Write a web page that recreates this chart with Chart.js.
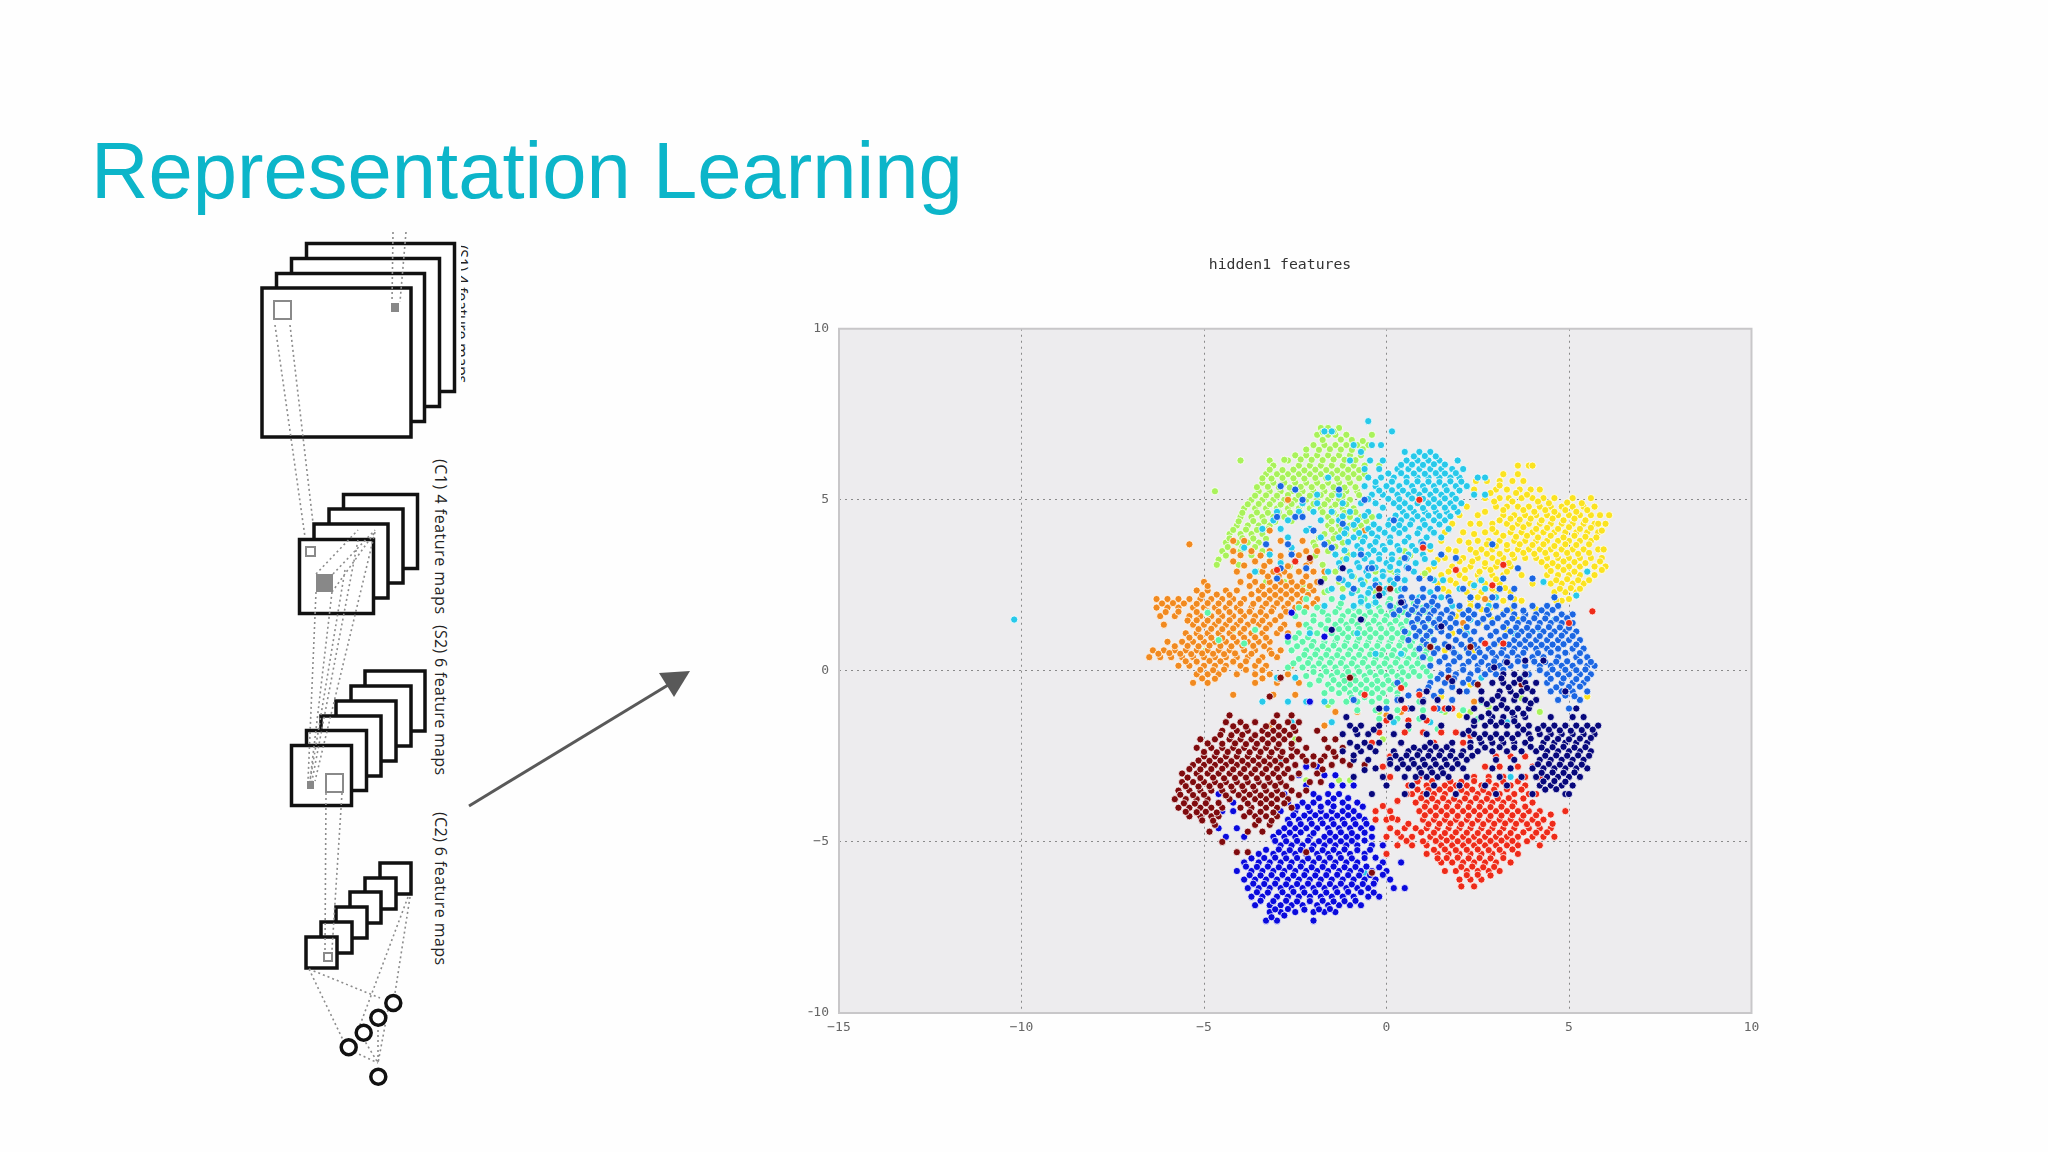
<!DOCTYPE html>
<html>
<head>
<meta charset="utf-8">
<title>Representation Learning</title>
<script src="https://cdn.jsdelivr.net/npm/chart.js@4/dist/chart.umd.min.js"></script>
<style>
  html, body { margin: 0; padding: 0; background: #fefefe; }
  #page { position: relative; width: 2048px; height: 1152px; overflow: hidden; }
  #sketch { position: absolute; left: 0; top: 0; }
  #myChart { position: absolute; left: 780px; top: 240px; }
</style>
</head>
<body>
<div id="page">
<svg id="sketch" width="2048" height="1152" xmlns="http://www.w3.org/2000/svg">
  <defs><clipPath id="cutS1"><rect x="461" y="230" width="30" height="170"/></clipPath></defs>
  <text x="91" y="198" font-family="Liberation Sans" font-size="79.6" fill="#0cb5c9">Representation Learning</text>

  <g fill="#fff" stroke="#111" stroke-width="3.5">
    <rect x="306.5" y="243.5" width="148" height="148"/>
    <rect x="291.5" y="258.5" width="148" height="148"/>
    <rect x="276.5" y="273.5" width="148" height="148"/>
    <rect x="262" y="288" width="149" height="149"/>

    <rect x="343.5" y="494.5" width="74" height="74"/>
    <rect x="329" y="509" width="74" height="74"/>
    <rect x="314" y="524" width="74" height="74"/>
    <rect x="299.5" y="539.5" width="74" height="74"/>

    <rect x="365" y="671" width="60" height="60"/>
    <rect x="351" y="686" width="60" height="60"/>
    <rect x="336" y="701" width="60" height="60"/>
    <rect x="321" y="716" width="60" height="60"/>
    <rect x="306.5" y="730.5" width="60" height="60"/>
    <rect x="291.5" y="745.5" width="60" height="60"/>

    <rect x="380" y="863" width="31" height="31"/>
    <rect x="365" y="878" width="31" height="31"/>
    <rect x="350" y="892" width="31" height="31"/>
    <rect x="336" y="907" width="31" height="31"/>
    <rect x="321" y="922" width="31" height="31"/>
    <rect x="306" y="937" width="31" height="31"/>
  </g>

  <g fill="none" stroke="#8c8c8c" stroke-width="1.6" stroke-dasharray="2 3">
    <path d="M393 232L392 302M406 232L400 302"/>
    <path d="M275 325L305 537M290 325L313 523"/>
    <path d="M316 574L358 530M333 574L375 530M332 592L375 532M345 570L310 781M358 540L312 781M375 532L315 781M316 592L308 781M332 592L310 781"/>
    <path d="M326 793L325 950M342 793L332 950"/>
    <path d="M309 969L380 998M309 969L343 1040M408 897L360 1025M410 897L395 993"/>
    <path d="M350 1050L378 1063M363 1038L378 1063M378 1025L378 1063M388 1010L378 1063"/>
  </g>

  <g fill="#fff" stroke="#111" stroke-width="3.5">
    <circle cx="393.3" cy="1003" r="7.5"/>
    <circle cx="378.3" cy="1017.7" r="7.5"/>
    <circle cx="363.7" cy="1032.7" r="7.5"/>
    <circle cx="348.7" cy="1047.3" r="7.5"/>
    <circle cx="378.3" cy="1076.7" r="7.5"/>
  </g>

  <g fill="none" stroke="#8a8a8a" stroke-width="2">
    <rect x="274" y="301" width="17" height="18"/>
    <rect x="306" y="547" width="9" height="9"/>
    <rect x="326" y="774" width="17" height="18"/>
    <rect x="324" y="953" width="8" height="8"/>
  </g>
  <rect x="391" y="303" width="8" height="9" fill="#888"/>
  <rect x="316" y="574" width="17" height="18" fill="#888"/>
  <rect x="307" y="781" width="7" height="8" fill="#888"/>

  <g font-family="Open Sans" font-size="16" fill="#222">
    <text transform="translate(435 459) rotate(90)" textLength="155">(C1) 4 feature maps</text>
    <text transform="translate(435 625) rotate(90)" textLength="150">(S2) 6 feature maps</text>
    <text transform="translate(435 812) rotate(90)" textLength="153">(C2) 6 feature maps</text>
    <g clip-path="url(#cutS1)">
      <text transform="translate(456 245) rotate(90)" textLength="138">(S1) 4 feature maps</text>
    </g>
  </g>

  <path d="M469 806L678 679" stroke="#595959" stroke-width="3" fill="none"/>
  <path d="M690 671L659 673L674 697Z" fill="#595959"/>
</svg>
<canvas id="myChart" width="1000" height="820"></canvas>
</div>

<script>
// each row: y value first, then the x values read along that height
const navy = [
  [-0.1,3.2,3.5,3.8],
  [-0.35,2.9,3.2,3.5,3.8,4.1],
  [-0.6,1.1,2.0,2.6,3.1,3.4,3.7,4.0,4.9],
  [-0.85,0.4,1.4,2.6,2.9,3.2,3.5,3.8,4.1],
  [-1.1,-0.2,0.7,1.7,2.4,3.0,3.3,3.6,3.9,5.2],
  [-1.35,-1.1,0.1,1.0,2.2,2.6,2.9,3.2,3.5,3.8,4.5,5.1,5.4],
  [-1.6,-1.0,-0.7,-0.2,0.6,1.5,2.4,2.7,3.0,3.3,3.6,3.9,4.3,4.6,4.9,5.2,5.5,5.8],
  [-1.85,-1.2,-0.8,-0.5,0.2,1.1,2.1,2.4,2.7,3.0,3.3,3.6,3.9,4.2,4.5,4.8,5.1,5.4,5.7],
  [-2.1,-1.0,-0.6,-0.2,0.4,1.2,1.8,2.3,2.6,2.9,3.2,3.5,3.8,4.3,4.6,4.9,5.2,5.5],
  [-2.35,-1.2,-0.7,-0.3,0.2,0.6,0.9,1.2,1.5,1.8,2.1,2.5,2.9,3.3,3.7,4.1,4.4,4.7,5.0,5.3,5.6],
  [-2.6,-0.9,-0.5,0.1,0.4,0.7,1.0,1.3,1.6,1.9,2.2,3.0,3.5,4.2,4.5,4.8,5.1,5.4],
  [-2.85,-0.3,0.3,0.6,0.9,1.2,1.5,1.8,2.1,2.9,3.4,4.0,4.3,4.6,4.9,5.2,5.5],
  [-3.1,-0.9,-0.1,0.5,0.8,1.1,1.4,1.7,2.2,3.1,3.7,4.1,4.4,4.7,5.0,5.3],
  [-3.35,0,0.7,1.3,2.0,2.7,3.3,4.2,4.5,4.8,5.1],
  [-3.6,-0.4,0.5,1.1,1.9,3.0,4.0,4.9,5.0]
];
const navyMore = [3.15,-0.22,3.65,-0.24,3.35,-0.48,3.85,-0.5,3.05,-0.73,3.55,-0.72,3.95,-0.95,2.75,-0.97,3.15,-1.0,3.45,-1.22,2.8,-1.24,3.75,-1.25,2.4,-1.47,2.85,-1.48,3.15,-1.5,3.5,-1.47,3.75,-1.72,4.15,-1.7,4.45,-1.72,4.75,-1.74,5.05,-1.75,5.35,-1.73,5.65,-1.72,2.25,-1.75,2.55,-1.97,2.85,-1.96,3.15,-1.98,3.45,-1.97,3.95,-1.98,4.4,-1.97,4.7,-1.99,5.0,-2.0,5.3,-1.98,5.6,-1.96,1.65,-2.23,1.35,-2.22,1.05,-2.23,0.75,-2.24,2.3,-2.23,2.7,-2.24,3.1,-2.23,3.5,-2.24,3.95,-2.22,4.25,-2.24,4.55,-2.23,4.85,-2.22,5.15,-2.24,5.45,-2.23,0.25,-2.48,0.55,-2.47,0.85,-2.46,1.15,-2.48,1.45,-2.47,1.75,-2.48,2.05,-2.47,2.35,-2.48,4.35,-2.48,4.65,-2.47,4.95,-2.48,5.25,-2.47,5.55,-2.48,0.45,-2.73,0.75,-2.72,1.05,-2.74,1.35,-2.73,1.65,-2.74,1.95,-2.72,4.15,-2.73,4.45,-2.72,4.75,-2.74,5.05,-2.73,5.35,-2.74,0.95,-2.98,1.25,-2.97,1.55,-2.99,4.25,-2.98,4.55,-2.97,4.85,-2.98,5.15,-2.97,4.3,-3.23,4.6,-3.22,4.9,-3.24,4.35,-3.47,4.65,-3.46,-0.85,-1.72,-0.35,-1.72,-0.8,-2.22,-0.45,-2.23,-0.9,-2.47,0.1,-2.72,-0.6,-2.9,1.7,0.7,3.8,0.3,3.3,0.25,2.95,0.1,4.3,0.3,1.5,1.3,0.4,2.0,-0.7,1.5,-1.5,1.2,-1.8,2.6,-0.2,2.2,-1.2,3.0,1.8,-0.3,1.0,-0.9];
const red = [
  [5.0,0.9],
  [3.2,-2.5],[2.95,-3.0,1.9],
  [1.74,5.64],[1.4,5.0],[0.8,2.7,3.2],
  [-0.7,-0.6,0.9],[-1.1,0.5,1.3,1.6],
  [-1.45,0,0.6,1.1],
  [-1.8,-0.2,0.5,1.0,1.5,1.9],
  [-2.1,-0.4,0.4,1.3,2.1],
  [-2.5,0.1,3.0,3.4,3.8],
  [-2.8,-0.1,2.7,3.1,3.6,4.0],
  [-3.1,0.1,0.9,1.7,2.4,2.8,3.2,3.8,4.2],
  [-3.35,0.6,1.1,1.6,1.9,2.2,2.6,3.0,3.4,3.8,4.2],
  [-3.6,0.7,1.0,1.3,1.6,1.9,2.2,2.5,2.8,3.1,3.5,3.9,4.1],
  [-3.85,0.8,1.1,1.4,1.7,2.0,2.3,2.6,2.9,3.2,3.5,4.0],
  [-4.1,-0.3,0.1,0.9,1.2,1.5,1.8,2.1,2.4,2.7,3.0,3.3,3.6,3.9,4.2,4.9],
  [-4.35,-0.3,0,0.3,1.0,1.3,1.6,1.9,2.2,2.5,2.8,3.1,3.4,3.7,4.0,4.3],
  [-4.6,0.1,0.5,0.8,1.1,1.4,1.7,2.0,2.3,2.6,2.9,3.2,3.5,3.9,4.2,4.5],
  [-4.85,0,0.4,0.7,1.2,1.5,1.8,2.1,2.4,2.7,3.0,3.3,3.6,4.0,4.3,4.6],
  [-5.1,0.3,0.7,1.1,1.5,1.8,2.1,2.4,2.7,3.0,3.3,3.6,4.2],
  [-5.35,0,1.1,1.4,1.7,2.0,2.3,2.6,2.9,3.2,3.6],
  [-5.6,1.5,1.8,2.1,2.4,2.7,3.0,3.4],
  [-5.85,1.6,1.9,2.2,2.5,2.8,3.1],
  [-6.1,2.0,2.3,2.6],
  [-6.3,2.05,2.4]
];
const redMore = [0.85,-3.23,1.25,-3.22,1.75,-3.23,2.05,-3.24,2.4,-3.22,2.8,-3.23,3.2,-3.24,3.6,-3.23,0.85,-3.47,1.15,-3.48,1.45,-3.47,1.75,-3.46,2.05,-3.48,2.35,-3.47,2.65,-3.48,2.95,-3.47,3.3,-3.46,3.7,-3.47,0.95,-3.72,1.25,-3.73,1.55,-3.72,1.85,-3.74,2.15,-3.73,2.45,-3.72,2.75,-3.74,3.05,-3.73,3.35,-3.72,3.75,-3.73,1.05,-3.97,1.35,-3.98,1.65,-3.97,1.95,-3.96,2.25,-3.98,2.55,-3.97,2.85,-3.98,3.15,-3.97,3.45,-3.96,3.8,-3.97,4.1,-4.22,1.05,-4.22,1.35,-4.23,1.65,-4.22,1.95,-4.24,2.25,-4.23,2.55,-4.22,2.85,-4.24,3.15,-4.23,3.45,-4.22,3.75,-4.23,0.6,-4.47,1.15,-4.48,1.45,-4.47,1.75,-4.46,2.05,-4.48,2.35,-4.47,2.65,-4.48,2.95,-4.47,3.25,-4.46,3.55,-4.47,3.85,-4.48,4.15,-4.47,4.55,-4.47,0.3,-4.73,0.95,-4.72,1.3,-4.73,1.6,-4.74,1.9,-4.72,2.2,-4.73,2.5,-4.74,2.8,-4.72,3.1,-4.73,3.4,-4.74,3.75,-4.72,4.1,-4.73,4.4,-4.72,0.55,-4.97,1.0,-4.98,1.35,-4.97,1.65,-4.96,1.95,-4.98,2.25,-4.97,2.55,-4.98,2.85,-4.97,3.15,-4.96,3.45,-4.97,3.85,-4.98,1.3,-5.23,1.6,-5.22,1.9,-5.24,2.2,-5.23,2.5,-5.22,2.8,-5.24,3.1,-5.23,3.45,-5.22,1.4,-5.48,1.65,-5.47,1.95,-5.46,2.25,-5.48,2.55,-5.47,2.85,-5.48,3.2,-5.47,2.05,-5.73,2.35,-5.72,2.65,-5.74,2.95,-5.73,2.2,-5.97,2.5,-5.96,2.85,-5.98,0.3,-3.8,0.55,-3.6,-0.1,-3.95,0.15,-4.3,4.5,-4.2,3.2,3.1,2.9,2.5,1.0,3.6,0.4,-0.5,1.8,-1.1,2.3,-1.9];
const maroon = [
  [3.3,-2.1],[2.4,-0.2,0.1],[0.7,1.2,2.3],[-0.2,-2.9,-1.0],
  [-0.75,-3.2],
  [-1.3,-4.3,-3.0,-2.6],
  [-1.5,-4.4,-4.0,-3.6,-3.1,-2.7,-2.4],
  [-1.75,-4.5,-4.1,-3.8,-3.4,-3.1,-2.8,-2.5,-1.9],
  [-2.0,-5.1,-4.7,-4.3,-4.0,-3.7,-3.4,-3.1,-2.8,-2.4,-1.7,-1.4],
  [-2.25,-5.2,-4.8,-4.5,-4.2,-3.9,-3.6,-3.3,-3.0,-2.6,-2.2,-1.6,-1.2],
  [-2.5,-5.0,-4.7,-4.4,-4.1,-3.8,-3.5,-3.2,-2.9,-2.6,-2.3,-2.0,-1.7,-1.4,-0.9],
  [-2.75,-5.3,-5.0,-4.7,-4.4,-4.1,-3.8,-3.5,-3.2,-2.9,-2.5,-2.0,-1.5,-1.0,-0.6],
  [-3.0,-5.6,-5.2,-4.9,-4.6,-4.3,-4.0,-3.7,-3.4,-3.1,-2.8,-2.4,-1.9],
  [-3.25,-5.6,-5.3,-5.0,-4.7,-4.4,-4.1,-3.8,-3.5,-3.2,-2.9,-2.1,-1.8],
  [-3.5,-5.7,-5.4,-5.1,-4.8,-4.5,-4.2,-3.9,-3.6,-3.3,-3.0,-2.6,-2.2],
  [-3.75,-5.8,-5.5,-5.2,-4.9,-4.3,-3.9,-3.6,-3.3,-3.0,-2.7],
  [-4.0,-5.7,-5.4,-5.1,-4.8,-4.5,-4.0,-3.7,-3.3,-3.0,-2.6],
  [-4.25,-5.4,-5.1,-4.8,-4.6,-3.9,-3.6,-3.3,-3.0],
  [-4.5,-4.7,-3.6,-3.2],
  [-4.7,-4.85,-3.8,-3.4],
  [-5.0,-4.5],[-5.3,-4.1,-3.8,-2.2],[-5.9,-0.4]
];
const maroonMore = [-4.2,-1.62,-3.85,-1.63,-3.3,-1.62,-2.95,-1.63,-2.55,-1.64,-4.55,-1.87,-4.25,-1.88,-3.95,-1.87,-3.6,-1.88,-3.25,-1.86,-2.95,-1.88,-2.65,-1.87,-4.9,-2.12,-4.5,-2.13,-4.15,-2.12,-3.85,-2.14,-3.55,-2.13,-3.25,-2.12,-2.95,-2.14,-2.6,-2.13,-5.0,-2.37,-4.65,-2.38,-4.35,-2.37,-4.05,-2.36,-3.75,-2.38,-3.45,-2.37,-3.15,-2.38,-2.85,-2.37,-2.45,-2.36,-1.45,-2.37,-5.15,-2.62,-4.85,-2.63,-4.55,-2.62,-4.25,-2.64,-3.95,-2.63,-3.65,-2.62,-3.35,-2.64,-3.05,-2.63,-2.75,-2.62,-2.2,-2.63,-1.8,-2.62,-1.2,-2.63,-5.4,-2.87,-5.1,-2.88,-4.8,-2.87,-4.5,-2.86,-4.2,-2.88,-3.9,-2.87,-3.6,-2.88,-3.3,-2.87,-3.0,-2.86,-2.7,-2.87,-1.75,-2.88,-5.45,-3.12,-5.1,-3.13,-4.75,-3.12,-4.45,-3.14,-4.15,-3.13,-3.85,-3.12,-3.55,-3.14,-3.25,-3.13,-2.95,-3.12,-2.6,-3.13,-5.5,-3.37,-5.15,-3.38,-4.85,-3.37,-4.55,-3.36,-4.25,-3.38,-3.95,-3.37,-3.65,-3.38,-3.35,-3.37,-3.05,-3.36,-2.75,-3.37,-5.65,-3.62,-5.3,-3.63,-5.0,-3.62,-4.4,-3.64,-4.05,-3.63,-3.75,-3.62,-3.45,-3.64,-3.15,-3.63,-2.85,-3.62,-2.4,-3.63,-5.55,-3.87,-5.25,-3.88,-4.95,-3.87,-4.6,-3.86,-3.8,-3.88,-3.45,-3.87,-3.15,-3.88,-2.8,-3.87,-5.5,-4.12,-5.2,-4.13,-4.95,-4.12,-4.65,-4.14,-3.75,-4.13,-3.45,-4.12,-3.1,-4.14,-5.05,-4.37,-4.75,-4.38,-3.5,-4.37,-3.15,-4.38,1.7,-0.2,2.5,-0.4,3.7,-0.4];
const deepBlue = [
  [1.7,-2.6],[1.0,-2.7,-1.7],[-0.9,-2.1],
  [-2.2,-2.6],[-2.8,-2.2,-1.9],
  [-3.05,-2.4,-1.7,-1.4],
  [-3.35,-2.2,-1.5,-1.2,-0.9],
  [-3.6,-4.6,-2.8,-2.0,-1.6,-1.3],
  [-3.85,-4.6,-4.2,-2.7,-2.3,-2.0,-1.6,-1.2,-0.8],
  [-4.1,-4.5,-4.2,-2.9,-2.5,-2.1,-1.8,-1.5,-1.2,-0.9],
  [-4.35,-3.5,-2.7,-2.4,-2.1,-1.8,-1.5,-1.2,-0.9,-0.6],
  [-4.6,-4.6,-4.1,-2.8,-2.5,-2.2,-1.9,-1.6,-1.3,-1.0,-0.7,-0.4],
  [-4.85,-4.4,-3.9,-3.1,-2.8,-2.5,-2.1,-1.7,-1.4,-1.1,-0.8,-0.4],
  [-5.1,-2.9,-2.6,-2.3,-2.0,-1.7,-1.4,-1.1,-0.8,-0.4],
  [-5.35,-3.5,-3.1,-2.8,-2.5,-2.2,-1.9,-1.6,-1.3,-1.0,-0.6,0],
  [-5.6,-3.9,-3.5,-3.2,-2.9,-2.6,-2.3,-2.0,-1.7,-1.4,-1.1,-0.8,-0.1,0.4],
  [-5.85,-4.1,-3.7,-3.4,-3.1,-2.8,-2.5,-2.2,-1.9,-1.6,-1.3,-1.0,-0.7,-0.4,0],
  [-6.1,-3.9,-3.6,-3.3,-3.0,-2.7,-2.4,-2.1,-1.8,-1.5,-1.2,-0.9,-0.6,-0.3,0.1],
  [-6.35,-3.8,-3.5,-3.2,-2.9,-2.6,-2.3,-2.0,-1.7,-1.4,-1.1,-0.8,-0.5,0.2],
  [-6.6,-3.7,-3.4,-3.0,-2.7,-2.4,-2.1,-1.8,-1.5,-1.2,-0.9,-0.5,-0.2],
  [-6.85,-3.6,-3.2,-2.9,-2.6,-2.3,-1.9,-1.6,-1.3,-1.0,-0.7],
  [-7.05,-3.2,-2.9,-2.5,-2.0,-1.7,-1.4],
  [-7.3,-3.3,-3.0,-2.0]
];
const deepBlueMore = [-1.85,-3.72,-1.45,-3.73,-1.05,-3.72,-2.45,-3.97,-2.15,-3.98,-1.8,-3.97,-1.45,-3.96,-1.05,-3.98,-0.65,-3.97,-2.55,-4.22,-2.25,-4.23,-1.95,-4.22,-1.65,-4.24,-1.35,-4.23,-1.05,-4.22,-0.75,-4.24,-2.65,-4.47,-2.35,-4.48,-2.05,-4.47,-1.75,-4.46,-1.45,-4.48,-1.15,-4.47,-0.85,-4.48,-0.55,-4.47,-2.95,-4.72,-2.65,-4.73,-2.35,-4.72,-2.0,-4.74,-1.55,-4.73,-1.25,-4.72,-0.95,-4.74,-0.6,-4.73,-3.05,-4.97,-2.75,-4.98,-2.45,-4.97,-2.15,-4.96,-1.85,-4.98,-1.55,-4.97,-1.25,-4.98,-0.95,-4.97,-0.6,-4.96,-3.3,-5.23,-2.95,-5.22,-2.65,-5.24,-2.35,-5.23,-2.05,-5.22,-1.75,-5.24,-1.45,-5.23,-1.15,-5.22,-0.8,-5.24,-0.45,-5.23,-3.7,-5.48,-3.35,-5.47,-3.05,-5.46,-2.75,-5.48,-2.45,-5.47,-2.15,-5.48,-1.85,-5.47,-1.55,-5.46,-1.25,-5.47,-0.95,-5.48,-0.6,-5.47,-0.3,-5.46,-3.85,-5.72,-3.55,-5.73,-3.25,-5.72,-2.95,-5.74,-2.65,-5.73,-2.35,-5.72,-2.05,-5.74,-1.75,-5.73,-1.45,-5.72,-1.15,-5.74,-0.85,-5.73,-0.55,-5.72,-0.2,-5.74,-3.75,-5.97,-3.45,-5.98,-3.15,-5.97,-2.85,-5.96,-2.55,-5.98,-2.25,-5.97,-1.95,-5.98,-1.65,-5.97,-1.35,-5.96,-1.05,-5.97,-0.75,-5.98,-0.45,-5.97,-0.1,-5.96,-3.65,-6.22,-3.35,-6.23,-3.05,-6.22,-2.75,-6.24,-2.45,-6.23,-2.15,-6.22,-1.85,-6.24,-1.55,-6.23,-1.25,-6.22,-0.95,-6.24,-0.65,-6.23,-0.35,-6.22,-3.55,-6.47,-3.25,-6.48,-2.85,-6.47,-2.55,-6.46,-2.25,-6.48,-1.95,-6.47,-1.65,-6.48,-1.35,-6.47,-1.05,-6.46,-0.7,-6.47,-0.35,-6.48,-3.45,-6.72,-3.1,-6.73,-2.75,-6.72,-2.45,-6.74,-2.1,-6.73,-1.75,-6.72,-1.45,-6.74,-1.15,-6.73,-0.85,-6.72,-3.05,-6.97,-2.7,-6.96,-2.25,-6.98,-1.85,-6.97,-1.55,-6.96,-3.15,-7.2,-2.8,-7.15,-0.1,-5.1,0.5,-6.35];
const blue = [
  [5.4,-2.9],[5.3,-2.5,-1.3],[5.0,-2.3,-0.6],[4.5,-3.0,-2.5,-2.3],[4.1,-2.0],
  [3.7,-3.3,-2.7,-1.7,1.0,2.9],[3.4,-2.6,-0.7,1.5],[3.0,-2.9,-2.2,-0.5,0.6,3.6],
  [2.7,-3.0,-1.3,0.3,0.9,1.2,3.2,4.0],
  [2.4,-0.9,0.5,1.0,1.4,2.1,3.1],
  [2.15,0.4,0.7,1.0,1.3,1.7,2.3,2.9,3.4,4.6],
  [1.9,0.1,0.5,0.8,1.1,1.4,2.0,2.5,3.0,3.5,4.0,4.4,4.7],
  [1.65,0.2,0.6,0.9,1.2,1.5,1.8,2.1,2.4,2.8,3.2,3.5,3.8,4.1,4.4,4.8,5.1],
  [1.4,0.7,1.0,1.3,1.6,1.9,2.5,2.9,3.3,3.6,3.9,4.2,4.5,4.8,5.1],
  [1.15,0.5,0.9,1.2,1.5,2.0,2.4,3.0,3.4,3.7,4.0,4.3,4.6,4.9,5.2],
  [0.9,0.6,1.0,1.3,1.9,2.3,2.6,3.1,3.5,3.8,4.1,4.4,4.7,5.0,5.3],
  [0.65,0.9,1.4,1.8,2.2,2.5,2.8,3.2,3.5,3.8,4.1,4.4,4.7,5.1,5.4],
  [0.4,1.0,1.6,2.0,2.4,2.7,3.0,3.3,3.6,4.0,4.3,4.7,5.2,5.5],
  [0.15,1.2,1.7,2.1,2.5,2.8,3.1,3.4,3.8,4.2,4.5,4.8,5.1,5.5,5.7],
  [-0.1,1.5,1.9,2.3,2.7,3.0,3.9,4.4,4.7,5.0,5.3,5.6],
  [-0.35,0.3,1.2,1.6,2.1,2.4,4.4,4.8,5.1,5.4],
  [-0.6,0.9,1.5,2.2,4.5,4.8,5.1,5.5],
  [-0.85,-0.9,0.3,1.0,1.8,4.7,5.3],
  [-1.1,0,0.6,1.4,5.0]
];
const blueMore = [0.45,2.02,0.85,2.03,1.25,2.02,1.75,2.04,0.35,1.77,0.7,1.78,1.0,1.77,1.3,1.76,1.65,1.78,2.25,1.77,2.75,1.78,3.3,1.77,3.75,1.76,4.25,1.77,4.55,1.78,0.85,1.52,1.15,1.53,1.45,1.52,1.75,1.54,2.25,1.53,2.65,1.52,3.05,1.54,3.45,1.53,3.75,1.52,4.05,1.54,4.35,1.53,4.65,1.52,4.95,1.54,0.75,1.27,1.05,1.28,1.4,1.27,1.75,1.26,2.2,1.28,2.75,1.27,3.2,1.28,3.55,1.27,3.85,1.26,4.15,1.27,4.45,1.28,4.75,1.27,5.0,1.26,0.8,1.02,1.1,1.03,1.7,1.02,2.15,1.04,2.85,1.03,3.25,1.02,3.6,1.04,3.9,1.03,4.2,1.02,4.5,1.04,4.8,1.03,5.1,1.02,1.1,0.77,1.6,0.78,2.05,0.77,2.4,0.76,2.95,0.78,3.35,0.77,3.65,0.78,3.95,0.77,4.25,0.76,4.55,0.77,4.85,0.78,5.2,0.77,1.3,0.52,1.85,0.53,2.25,0.52,2.55,0.54,2.9,0.53,3.15,0.52,3.45,0.54,3.75,0.53,4.15,0.52,4.5,0.54,4.9,0.53,5.3,0.52,1.45,0.27,1.85,0.28,2.25,0.27,2.6,0.26,2.95,0.28,3.25,0.27,3.6,0.28,4.05,0.27,4.35,0.26,4.65,0.27,4.95,0.28,5.3,0.27,5.6,0.26,1.7,0.02,2.1,0.03,2.5,0.02,2.85,0.04,3.2,0.03,4.2,0.02,4.55,0.04,4.9,0.03,5.2,0.02,5.45,0.04,1.4,-0.23,1.85,-0.22,2.25,-0.24,4.5,-0.23,4.85,-0.22,5.2,-0.24,5.5,-0.23,1.15,-0.48,1.8,-0.47,4.65,-0.48,5.0,-0.47,5.3,-0.46,0.6,-0.72,1.3,-0.73,4.9,-0.72,5.15,-0.74,-1.5,3.6,-2.5,3.2,-0.4,3.0,0.5,3.3,1.9,3.3,3.5,2.4,-0.3,2.5,0.2,4.4,-1.2,4.3];
const cyan = [
  [7.3,-0.5],[7.0,0.15,-1.7,-1.5],[6.6,-0.9,-0.4,-0.15],[6.4,-0.7,0.5,0.9,1.2],
  [6.15,-1.0,-0.45,-0.1,0.55,0.85,1.15,1.45,1.95],
  [5.9,-0.6,-0.2,0.3,0.6,0.9,1.2,1.5,1.8,2.1],
  [5.65,-1.6,-0.5,-0.15,0.2,0.55,0.85,1.15,1.45,1.75,2.0,2.5,2.7],
  [5.4,-0.6,-0.3,0,0.35,0.7,1,1.3,1.6,1.9,2.2],
  [5.15,-1.9,-1.3,-0.4,-0.1,0.3,0.6,0.9,1.2,1.5,1.8,2.4,2.7],
  [4.9,-2.3,-1.9,-1.2,-0.7,-0.3,0.2,0.5,0.85,1.15,1.45,1.75,2.05],
  [4.65,-3.0,-2.4,-2.0,-1.5,-1.0,-0.5,0.45,0.75,1.05,1.35,1.65,1.95],
  [4.4,-3.1,-2.7,-1.8,-1.3,-0.8,0.1,0.4,0.7,1,1.3,1.6],
  [4.15,-3.4,-2.9,-2.1,-1.1,-0.5,-0.2,0.2,0.5,0.9,1.2,1.7],
  [3.9,-2.7,-1.3,-0.9,-0.6,-0.25,0.1,0.6,1.1,1.5],
  [3.65,-0.8,-0.45,-0.1,0.3,0.7,1.2],
  [3.4,-3.2,-1.4,-0.9,-0.5,-0.2,0.15,0.6,1.0],
  [3.15,-2.9,-1.3,-0.8,-0.4,0,0.35,0.8,1.3],
  [2.9,-3.6,-1.6,-1.0,-0.55,-0.1,0.3,0.75,5.5],
  [2.65,-1.2,-0.7,-0.3,0.1,0.5,1.3,2.6],
  [2.4,-1.5,-0.9,-0.45,0,0.4,2.0,2.7],
  [2.15,-1.2,-0.7,-0.3,0.9,1.5,2.3,3.0],
  [1.9,-1.7,-0.9,-0.5,1.2,1.8,2.8],
  [1.5,-10.2,1.4,2.3,4.6],[1.1,-2.1,-0.8,2.2,3.5],[0.5,-0.3,0.4,1.9],[-0.2,-3.0,-2.5,2.6,3.7],
  [-0.9,-3.4,-2.7,-2.2,-1.7],[-1.5,-2.6,-1.5,0.2,1.2,3.3],[-2.6,-2.9,1.6],[-3.1,2.8,3.4],[-5.9,-0.6]
];
const cyanMore = [0.75,6.27,1.05,6.28,1.35,6.27,0.4,6.02,0.7,6.03,1.0,6.02,1.3,6.04,1.6,6.03,0.05,5.77,0.4,5.78,0.75,5.77,1.05,5.76,1.35,5.78,1.6,5.77,1.9,5.78,-0.3,5.52,0.15,5.53,0.55,5.52,0.85,5.54,1.15,5.53,1.45,5.52,1.75,5.54,2.05,5.53,-0.2,5.27,0.15,5.28,0.45,5.27,0.75,5.26,1.05,5.28,1.35,5.27,1.65,5.28,2.0,5.27,-0.5,5.02,0.05,5.03,0.35,5.02,0.7,5.04,1.0,5.03,1.3,5.02,1.6,5.04,1.9,5.03,-0.1,4.77,0.35,4.78,0.65,4.77,1.0,4.76,1.3,4.78,1.6,4.77,1.85,4.78,-1.2,4.52,-0.6,4.53,-0.2,4.52,0.25,4.54,0.55,4.53,0.85,4.52,1.15,4.54,1.45,4.53,1.75,4.52,-0.9,4.27,-0.35,4.28,0.05,4.27,0.35,4.26,0.65,4.28,1.05,4.27,1.45,4.28,-1.15,4.02,-0.75,4.03,-0.4,4.02,-0.05,4.04,0.35,4.03,0.85,4.02,1.3,4.04,-1.05,3.77,-0.65,3.78,-0.3,3.77,0.1,3.76,0.5,3.78,0.95,3.77,-1.15,3.52,-0.7,3.53,-0.35,3.52,-0.05,3.54,0.35,3.53,0.8,3.52,-1.1,3.27,-0.6,3.28,-0.2,3.27,0.15,3.26,0.55,3.28,1.05,3.27,-1.25,3.02,-0.75,3.03,-0.3,3.02,0.1,3.04,0.55,3.03,-0.95,2.77,-0.5,2.78,-0.1,2.77,0.3,2.76,1.55,2.65,-1.05,2.52,-0.65,2.53,-0.2,2.52,0.2,2.54,2.4,2.5,-0.95,2.27,-0.5,2.28,-0.1,2.27,1.2,2.3,-0.7,2.02,-0.3,2.0,-3.9,3.6,-2.2,4.1,-2.6,3.6,-1.8,3.9,4.3,2.6,5.2,2.2,4.2,1.2];
const aqua = [
  [2.35,-1.6,-0.8,0.3],
  [2.1,-2.2,-1.5,-0.6,0.1,0.7],
  [1.85,-2.4,-1.9,-1.3,-0.9,-0.5,-0.2,0.2,0.5,1.0],
  [1.6,-2.5,-2.0,-1.6,-1.2,-0.9,-0.6,-0.3,0,0.3,0.6,0.9,1.2],
  [1.35,-2.2,-1.8,-1.4,-1.1,-0.8,-0.5,-0.2,0.1,0.4,0.7,1.0,1.3],
  [1.1,-2.4,-1.9,-1.5,-1.2,-0.9,-0.6,-0.3,0,0.3,0.6,0.9,1.2],
  [0.85,-2.7,-2.3,-2.0,-1.7,-1.4,-1.1,-0.8,-0.5,-0.2,0.1,0.4,0.7,1.0,1.3],
  [0.6,-2.6,-2.2,-1.9,-1.6,-1.3,-1.0,-0.7,-0.4,-0.1,0.2,0.5,0.8,1.1],
  [0.35,-2.4,-2.1,-1.8,-1.5,-1.2,-0.9,-0.6,-0.3,0,0.3,0.6,0.9,1.2],
  [0.1,-2.7,-2.3,-2.0,-1.7,-1.4,-1.1,-0.8,-0.5,-0.2,0.1,0.4,0.7,1.0],
  [-0.15,-2.2,-1.8,-1.5,-1.2,-0.9,-0.6,-0.3,0,0.3,0.6,0.9,1.2],
  [-0.4,-2.1,-1.6,-1.3,-1.0,-0.7,-0.4,-0.1,0.2,0.5],
  [-0.65,-1.7,-1.3,-1.0,-0.7,-0.4,-0.1,0.3],
  [-0.9,-1.5,-1.1,-0.8,-0.4,0,0.9],
  [-1.15,-0.8,-0.3,0.3,1.0,1.5,2.1],
  [-1.4,-0.2,0.3,0.9,2.5],[-1.7,0.6,1.4]
];
const aquaMore = [-1.25,1.97,-0.7,1.98,-0.35,1.97,0.05,1.96,0.35,1.98,0.75,1.97,-2.25,1.72,-1.75,1.73,-1.4,1.72,-1.05,1.74,-0.75,1.73,-0.45,1.72,-0.15,1.74,0.15,1.73,0.45,1.72,0.75,1.74,1.05,1.73,-2.0,1.47,-1.6,1.48,-1.25,1.47,-0.95,1.46,-0.65,1.48,-0.35,1.47,-0.05,1.48,0.25,1.47,0.55,1.46,0.85,1.47,1.15,1.48,-2.1,1.22,-1.65,1.23,-1.3,1.22,-1.05,1.24,-0.75,1.23,-0.45,1.22,-0.15,1.24,0.15,1.23,0.45,1.22,0.75,1.24,1.1,1.23,-2.5,0.97,-2.15,0.98,-1.7,0.97,-1.35,0.96,-1.05,0.98,-0.75,0.97,-0.45,0.98,-0.15,0.97,0.15,0.96,0.45,0.97,0.8,0.98,1.1,0.97,-2.45,0.72,-2.05,0.73,-1.75,0.72,-1.45,0.74,-1.15,0.73,-0.85,0.72,-0.55,0.74,-0.25,0.73,0.05,0.72,0.35,0.74,0.65,0.73,0.95,0.72,1.2,0.74,-2.25,0.47,-1.95,0.48,-1.65,0.47,-1.35,0.46,-1.05,0.48,-0.75,0.47,-0.45,0.48,-0.15,0.47,0.15,0.46,0.45,0.47,0.75,0.48,1.05,0.47,-2.55,0.22,-2.15,0.23,-1.85,0.22,-1.55,0.24,-1.25,0.23,-0.95,0.22,-0.65,0.24,-0.35,0.23,-0.05,0.22,0.25,0.24,0.55,0.23,0.85,0.22,-2.0,-0.03,-1.65,-0.02,-1.35,-0.04,-1.05,-0.03,-0.75,-0.02,-0.45,-0.04,-0.15,-0.03,0.15,-0.02,0.45,-0.04,0.75,-0.03,1.1,-0.02,-1.85,-0.28,-1.45,-0.27,-1.15,-0.29,-0.85,-0.28,-0.55,-0.27,-0.25,-0.29,0.05,-0.28,0.4,-0.27,-1.5,-0.53,-1.15,-0.52,-0.85,-0.54,-0.55,-0.53,-0.25,-0.52,0.1,-0.54,-0.95,-0.78,-0.6,-0.77,-0.2,-0.79,0.3,-0.78,2.6,-0.9,-3.9,0.8,-4.9,1.7,-4.6,0.9,-3.6,1.2];
const orange = [
  [5.0,-2.7],[4.1,-3.2,-0.6],[3.8,-4.2,-3.9,-2.9,-2.3],[3.7,-5.4],
  [3.5,-4.2,-3.7,-3.2,-2.6,-2.2,-1.9],
  [3.2,-4.2,-3.6,-3.2,-2.9,-2.5,-2.1],
  [2.9,-4.1,-3.4,-3.1,-2.8,-2.4,-2.0,-1.7],
  [2.6,-5.0,-4.0,-3.6,-3.2,-2.9,-2.6,-2.3,-1.9],
  [2.35,-5.2,-4.9,-4.4,-4.1,-3.5,-3.2,-2.9,-2.6,-2.3,-2.0],
  [2.1,-6.3,-6.0,-5.7,-5.4,-5.1,-4.8,-4.5,-4.2,-3.9,-3.5,-3.2,-2.9,-2.6,-2.3,-1.9],
  [1.85,-6.3,-6.0,-5.7,-5.3,-5.0,-4.7,-4.4,-4.1,-3.7,-3.4,-3.1,-2.8,-2.5,-2.2,-1.8],
  [1.6,-6.2,-5.8,-5.4,-5.1,-4.8,-4.5,-4.2,-3.9,-3.6,-3.3,-2.9,-2.5],
  [1.35,-6.1,-5.3,-5.0,-4.7,-4.4,-4.1,-3.8,-3.5,-3.2,-2.8,-2.4],
  [1.1,-5.5,-5.2,-4.9,-4.6,-4.3,-4.0,-3.7,-3.4,-3.0,-2.7],
  [0.85,-6.0,-5.6,-5.3,-5.0,-4.7,-4.4,-4.1,-3.8,-3.5,-3.2],
  [0.6,-6.4,-6.1,-5.8,-5.5,-5.2,-4.9,-4.6,-4.3,-3.9,-3.6,-3.2,-2.9],
  [0.4,-6.5,-6.2,-5.9,-5.6,-5.3,-5.0,-4.7,-4.4,-4.1,-3.8,-3.4,-3.0],
  [0.15,-5.7,-5.4,-5.0,-4.7,-4.4,-4.0,-3.6,-3.3,-2.6],
  [-0.1,-5.2,-4.9,-4.6,-4.1,-3.6,-3.2,-2.7],
  [-0.35,-5.3,-4.9,-3.6,-3.0,-2.4],
  [-0.7,-4.2,-3.1,-2.5],[-1.2,-1.4,0.4],[-1.6,-3.2,-1.7,3.3]
];
const orangeMore = [-4.0,3.38,-3.45,3.37,-2.9,3.36,-2.4,3.38,-3.9,3.08,-3.35,3.07,-2.7,3.06,-2.2,3.08,-3.75,2.77,-3.25,2.76,-2.95,2.78,-2.65,2.77,-2.2,2.76,-4.9,2.48,-3.75,2.48,-3.4,2.47,-3.05,2.46,-2.75,2.48,-2.45,2.47,-2.1,2.48,-5.05,2.22,-4.65,2.23,-4.3,2.22,-3.7,2.24,-3.35,2.23,-3.05,2.22,-2.75,2.24,-2.45,2.23,-2.15,2.22,-6.15,1.97,-5.85,1.98,-5.55,1.97,-5.2,1.96,-4.9,1.98,-4.6,1.97,-4.3,1.98,-4.0,1.97,-3.65,1.96,-3.3,1.97,-3.0,1.98,-2.7,1.97,-2.4,1.96,-2.0,1.97,-6.05,1.72,-5.7,1.73,-5.2,1.72,-4.9,1.74,-4.6,1.73,-4.3,1.72,-4.0,1.74,-3.75,1.73,-3.45,1.72,-3.15,1.74,-2.75,1.73,-5.45,1.47,-5.2,1.48,-4.9,1.47,-4.6,1.46,-4.3,1.48,-4.0,1.47,-3.65,1.46,-3.4,1.47,-3.05,1.48,-5.15,1.22,-4.8,1.23,-4.5,1.22,-4.2,1.24,-3.9,1.23,-3.6,1.22,-3.3,1.24,-2.9,1.23,-5.4,0.97,-5.1,0.98,-4.8,0.97,-4.5,0.96,-4.2,0.98,-3.9,0.97,-3.6,0.98,-3.3,0.97,-5.8,0.72,-5.45,0.73,-5.15,0.72,-4.85,0.74,-4.55,0.73,-4.25,0.72,-3.95,0.74,-3.65,0.73,-3.35,0.72,-6.25,0.5,-5.95,0.52,-5.65,0.5,-5.35,0.49,-5.05,0.51,-4.75,0.5,-4.45,0.49,-4.15,0.51,-3.7,0.5,-3.15,0.5,-5.5,0.28,-5.2,0.27,-4.85,0.29,-4.55,0.28,-4.2,0.27,-3.85,0.28,-3.5,0.29,-5.1,0.03,-4.75,0.02,-4.45,0.04,-3.85,0.03,-3.4,0.02,-5.05,-0.22,-4.7,-0.23,-3.4,-0.22,-2.95,-0.24,2.1,1.4,2.7,2.1,1.3,0.6,-0.8,-1.2,0,-1.3,2.4,-0.9];
const lime = [
  [7.1,-1.8,-1.6,-1.3],
  [6.9,-1.9,-1.6,-1.4,-1.1,-0.4],
  [6.6,-2.0,-1.7,-1.4,-1.1,-0.8,-0.5],
  [6.3,-2.5,-2.2,-1.9,-1.6,-1.3,-1.0,-0.7],
  [6.15,-4.0,-3.2,-2.7],
  [6.0,-3.1,-2.4,-2.1,-1.8,-1.5,-1.2,-0.9,-0.6,-0.2],
  [5.75,-3.3,-3.0,-2.7,-2.4,-2.1,-1.8,-1.5,-1.2,-0.9,-0.6],
  [5.5,-3.4,-3.1,-2.8,-2.5,-2.2,-1.9,-1.6,-1.3,-1.0],
  [5.25,-4.7,-3.5,-3.2,-2.9,-2.6,-2.3,-2.0,-1.7,-1.4,-1.1,-0.8],
  [5.0,-3.7,-3.4,-3.1,-2.8,-2.5,-2.2,-1.9,-1.6,-1.3,-1.0],
  [4.75,-3.9,-3.6,-3.3,-3.0,-2.7,-2.4,-2.1,-1.8,-1.5,-1.2,-0.9],
  [4.5,-4.0,-3.7,-3.4,-3.1,-2.8,-1.6,-1.3,-1.0,-0.7,-0.4],
  [4.25,-4.1,-3.8,-3.5,-3.2,-1.6,-1.3,-1.0,-0.7,-0.4],
  [4.0,-4.3,-4.0,-3.7,-3.4,-1.7,-1.4,-1.1,-0.4],
  [3.75,-4.4,-4.1,-3.8,-3.5,-2.0,-1.6,-1.2,0.1],
  [3.5,-4.5,-4.0,-3.4,-2.2,-1.6,-1.1,0.5],
  [3.25,-4.6,-3.2,-2.1,-1.2,0.4],
  [2.9,-3.5,-2.0,-1.4,-0.3,0.2],
  [2.6,-3.3,-2.8,-1.9,-1.3,-0.6,0.1],
  [2.3,-2.2,-1.7,-0.9,-0.3],
  [0.5,-5.6],[1.2,-4.2],[0.6,0.2,2.2],[-0.8,3.7],[-1.2,-0.2,1.6,2.3,4.2],[-2.0,-2.5,-0.1],[-3.2,-2.2,-1.3,-1.0]
];
const limeMore = [-1.75,6.98,-1.45,7.0,-1.75,6.75,-1.25,6.76,-0.95,6.75,-0.65,6.72,-2.2,6.47,-1.85,6.46,-1.55,6.48,-1.25,6.47,-0.95,6.46,-0.65,6.48,-2.8,6.17,-2.35,6.18,-2.05,6.17,-1.75,6.16,-1.45,6.18,-1.15,6.17,-0.85,6.16,-3.2,5.88,-2.85,5.87,-2.55,5.88,-2.25,5.86,-1.95,5.88,-1.65,5.87,-1.35,5.86,-1.05,5.88,-0.75,5.87,-3.4,5.63,-3.15,5.62,-2.85,5.64,-2.55,5.63,-2.25,5.62,-1.95,5.64,-1.65,5.63,-1.35,5.62,-1.05,5.64,-0.75,5.63,-3.55,5.37,-3.25,5.38,-2.95,5.37,-2.65,5.36,-2.35,5.38,-2.05,5.37,-1.75,5.38,-1.45,5.37,-1.15,5.36,-0.85,5.37,-3.6,5.12,-3.3,5.13,-3.0,5.12,-2.7,5.14,-2.4,5.13,-2.1,5.12,-1.8,5.14,-1.5,5.13,-1.2,5.12,-0.75,5.14,-3.8,4.87,-3.5,4.88,-3.2,4.87,-2.9,4.86,-2.6,4.88,-2.3,4.87,-2.0,4.88,-1.7,4.87,-1.4,4.86,-1.1,4.87,-3.95,4.62,-3.55,4.63,-3.25,4.62,-2.95,4.64,-2.65,4.63,-2.35,4.62,-1.75,4.64,-1.45,4.63,-1.15,4.62,-0.85,4.64,-4.05,4.37,-3.65,4.38,-3.35,4.37,-3.05,4.36,-2.6,4.38,-1.5,4.37,-1.2,4.38,-0.85,4.36,-0.55,4.38,-4.2,4.12,-3.85,4.13,-3.55,4.12,-3.25,4.14,-1.5,4.13,-1.25,4.12,-0.85,4.14,-4.3,3.87,-3.95,3.88,-3.65,3.87,-3.3,3.86,-1.85,3.88,-1.45,3.87,-0.7,3.88,-4.35,3.62,-3.95,3.63,-3.6,3.62,-1.95,3.64,-1.4,3.63,0.3,3.62,-4.4,3.37,-3.7,3.38,-1.95,3.37,-1.05,3.38,0.65,3.37,-4.65,3.1,-4.05,3.1,-2.65,3.05,-1.75,3.1,0.1,2.95,-0.9,2.75,-1.7,2.7,-2.3,2.5,1.05,2.85,-1.2,2.4,-4.95,0.6,-1.6,-1.0,2.8,-1.05];
const yellow = [
  [6.0,3.6,3.9,4.0],
  [5.75,3.2,3.6],
  [5.55,2.45,2.75,3.1,3.45,3.75],
  [5.3,2.4,3.0,3.3,3.65,3.95,4.2],
  [5.05,2.7,3.1,3.35,3.7,4.0,4.3,4.6,5.1,5.6],
  [4.8,2.2,3.0,3.3,3.6,3.9,4.2,4.5,4.8,5.1,5.4,5.7],
  [4.55,2.0,2.5,3.2,3.5,3.8,4.1,4.4,4.7,5.0,5.3,5.6,6.1],
  [4.3,1.8,2.3,2.9,3.3,3.6,3.9,4.2,4.5,4.8,5.1,5.4,5.7,6.0],
  [4.05,1.6,2.1,2.7,3.0,3.4,3.7,4.0,4.3,4.6,4.9,5.2,5.5,5.8],
  [3.8,1.5,2.0,2.5,2.8,3.1,3.5,3.8,4.1,4.4,4.7,5.0,5.3,5.6],
  [3.55,1.2,1.7,2.3,2.6,2.9,3.3,3.6,3.9,4.2,4.5,4.8,5.1,5.4,5.8],
  [3.3,1.6,2.1,2.5,2.9,3.2,3.5,3.8,4.1,4.4,4.7,5.0,5.3,5.6,5.9],
  [3.05,1.3,1.8,2.3,2.7,3.0,3.4,4.4,4.7,5.0,5.3,5.7,6.0],
  [2.8,1.0,1.5,2.0,2.5,2.9,3.2,3.7,4.4,4.7,5.0,5.3,5.7],
  [2.55,1.4,1.9,2.3,2.7,3.1,4.0,4.5,4.8,5.1,5.4],
  [2.3,1.7,2.2,2.6,3.0,3.4,4.6,4.9,5.2],
  [2.05,2.3,2.8,3.2,3.7,4.8],
  [1.8,2.0,2.6,3.4,4.1],
  [1.5,2.9,3.6,4.6],[1.2,2.1,3.3],[0.6,2.4,1.6],[-0.4,2.3,0.4],[-0.75,1.5,5.5],[-1.3,2.0]
];
const yellowMore = [3.1,5.42,3.55,5.2,3.85,5.15,2.85,5.2,4.15,4.95,4.45,4.9,4.95,4.92,5.35,4.9,3.45,4.95,2.95,4.95,3.2,4.7,3.75,4.7,4.05,4.65,4.35,4.7,4.6,4.65,4.9,4.7,5.2,4.65,5.5,4.7,5.85,4.55,2.7,4.65,3.4,4.45,3.65,4.42,3.95,4.45,4.25,4.4,4.55,4.45,4.85,4.4,5.15,4.45,5.45,4.4,5.8,4.3,2.55,4.3,3.1,4.4,3.45,4.18,3.75,4.2,4.1,4.15,4.4,4.18,4.7,4.15,5.0,4.2,5.3,4.15,5.6,4.18,5.9,4.1,2.4,4.0,2.9,4.15,3.2,3.95,3.55,3.92,3.85,3.95,4.15,3.9,4.5,3.95,4.85,3.9,5.15,3.95,5.45,3.92,5.75,3.9,2.25,3.75,2.75,3.7,3.0,3.65,3.3,3.68,3.65,3.7,4.0,3.68,4.3,3.7,4.6,3.65,4.9,3.7,5.2,3.68,5.55,3.7,5.95,3.55,1.9,3.5,2.45,3.45,2.75,3.42,3.1,3.42,3.45,3.4,3.75,3.45,4.05,3.42,4.35,3.45,4.65,3.4,4.95,3.45,5.25,3.42,5.55,3.45,1.4,3.25,2.0,3.2,2.35,3.2,2.7,3.15,3.05,3.18,3.35,3.15,4.25,3.18,4.55,3.15,4.85,3.2,5.15,3.18,5.45,3.15,5.85,3.2,1.15,2.95,1.7,2.9,2.15,2.95,2.55,2.9,2.85,2.95,3.3,2.9,4.5,2.92,4.85,2.95,5.15,2.9,5.5,2.92,5.9,2.95,1.3,2.65,1.75,2.65,2.15,2.7,2.55,2.65,3.0,2.68,4.65,2.65,4.95,2.68,5.25,2.65,5.55,2.65,1.55,2.4,2.05,2.4,2.4,2.45,2.9,2.4,3.25,2.42,4.75,2.4,5.05,2.42,5.3,2.4,2.5,2.15,3.0,2.18,3.5,2.1,4.65,2.05,5.0,2.1,2.3,1.9,2.85,1.85,3.2,1.7,1.9,1.6,2.55,1.4,1.8,1.1,3.0,0.8];
const classColors = {
  navy: '#07077c',
  red: '#ee2b19',
  maroon: '#7f0b0e',
  deepBlue: '#0a0add',
  blue: '#1b66e2',
  cyan: '#27c9ea',
  aqua: '#5ff5aa',
  orange: '#f18a20',
  lime: '#a9f25a',
  yellow: '#fbe320'
};
const classRows = { navy, red, maroon, deepBlue, blue, cyan, aqua, orange, lime, yellow };
const classMore = { navy: navyMore, red: redMore, maroon: maroonMore, deepBlue: deepBlueMore, blue: blueMore, cyan: cyanMore, aqua: aquaMore, orange: orangeMore, lime: limeMore, yellow: yellowMore };

function toPoints(rows, pairs) {
  const pts = rows.flatMap(row => row.slice(1).map(x => ({ x: x, y: row[0] })));
  for (let i = 0; i < pairs.length; i += 2) {
    pts.push({ x: pairs[i], y: pairs[i + 1] });
  }
  return pts;
}

const plotFrame = {
  id: 'plotFrame',
  beforeDraw(chart) {
    const { ctx, chartArea: { left, top, width, height } } = chart;
    ctx.save();
    ctx.fillStyle = '#edecee';
    ctx.fillRect(left, top, width, height);
    ctx.restore();
  },
  afterDraw(chart) {
    const { ctx, chartArea: { left, top, width, height } } = chart;
    ctx.save();
    ctx.strokeStyle = '#c8c7c9';
    ctx.lineWidth = 2;
    ctx.strokeRect(left, top, width, height);
    ctx.restore();
  }
};

const tickFont = { family: 'DejaVu Sans Mono', size: 13 };
const minus = value => String(value).replace('-', '\u2212');

new Chart(document.getElementById('myChart').getContext('2d'), {
  type: 'scatter',
  data: {
    datasets: Object.keys(classRows).map(name => ({
      label: name,
      data: toPoints(classRows[name], classMore[name]),
      backgroundColor: classColors[name],
      borderColor: '#ffffff',
      borderWidth: 0.8,
      pointRadius: 3.6
    }))
  },
  options: {
    responsive: false,
    animation: false,
    layout: { padding: { left: 28.5, right: 28.5, top: 0, bottom: 0 } },
    plugins: {
      legend: { display: false },
      tooltip: { enabled: false },
      title: {
        display: true,
        text: 'hidden1 features',
        color: '#333333',
        font: { family: 'DejaVu Sans Mono', size: 14.8, weight: 'normal' },
        padding: { top: 16, bottom: 55 }
      }
    },
    scales: {
      x: {
        type: 'linear',
        min: -15,
        max: 10,
        afterFit(scale) { scale.height = 47; },
        grid: { color: '#8a8a8a', drawTicks: false },
        border: { display: false, dash: [2, 4] },
        ticks: { stepSize: 5, color: '#666666', font: tickFont, padding: 7, maxRotation: 0, callback: minus }
      },
      y: {
        type: 'linear',
        min: -10,
        max: 10,
        afterFit(scale) { scale.width = 30.5; },
        grid: { color: '#8a8a8a', drawTicks: false },
        border: { display: false, dash: [2, 4] },
        ticks: { stepSize: 5, color: '#666666', font: tickFont, padding: 10, callback: minus }
      }
    }
  },
  plugins: [plotFrame]
});
</script>
</body>
</html>
